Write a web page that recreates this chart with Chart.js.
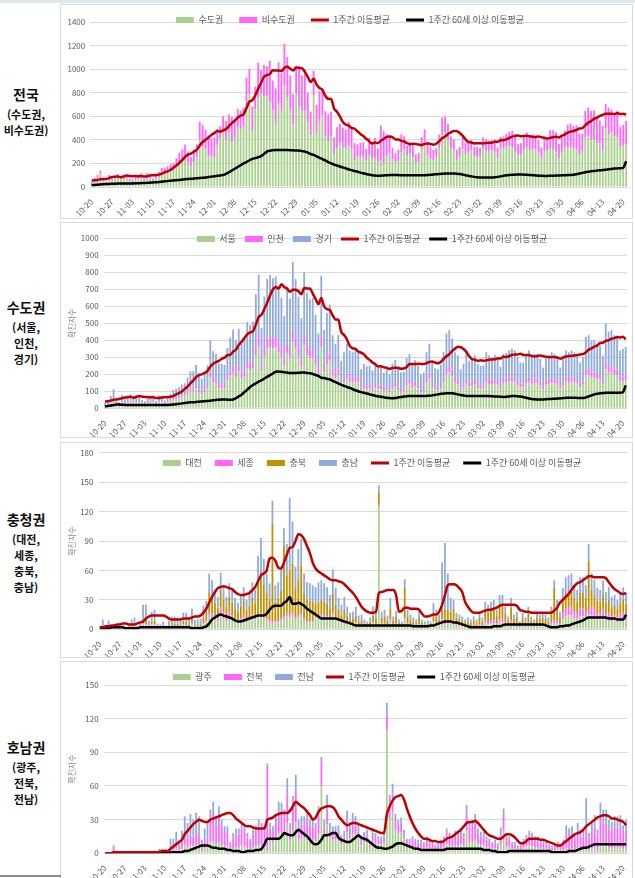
<!DOCTYPE html>
<html lang="ko">
<head>
<meta charset="utf-8">
<title>권역별 확진자 추이</title>
<script src="https://cdn.jsdelivr.net/npm/chart.js@4.4.1/dist/chart.umd.min.js"></script>
<style>
  html, body { margin: 0; padding: 0; background: #fff; }
  body { width: 635px; height: 878px; position: relative; overflow: hidden;
         font-family: 'Noto Sans CJK KR', 'Noto Sans', sans-serif; }
  .topband { position: absolute; left: 0; top: 0; width: 635px; height: 3px; background: #dde8ef; }
  .panel { position: absolute; left: 60px; width: 573px; border: 1px solid #d9d9d9; box-sizing: border-box; }
  .side { position: absolute; left: 0; width: 52px; text-align: center; font-weight: 700; color: #111; }
  .side .t { font-size: 14px; line-height: 20px; }
  .side .s { font-size: 11px; line-height: 16px; margin-top: 2px; }
  .foot { position: absolute; left: 0; top: 875px; width: 61px; height: 2px; background: #8c8c8c; }
  canvas { position: absolute; left: 61px; }
</style>
</head>
<body>
<div class="topband"></div>

<div class="panel" style="top:4px;height:215px"></div>
<div class="panel" style="top:222px;height:216px"></div>
<div class="panel" style="top:442px;height:216px"></div>
<div class="panel" style="top:661px;height:220px"></div>
<div class="foot"></div>

<div class="side" style="top:84px"><div class="t">전국</div><div class="s">(수도권,<br>비수도권)</div></div>
<div class="side" style="top:297px"><div class="t">수도권</div><div class="s">(서울,<br>인천,<br>경기)</div></div>
<div class="side" style="top:509px"><div class="t">충청권</div><div class="s">(대전,<br>세종,<br>충북,<br>충남)</div></div>
<div class="side" style="top:737px"><div class="t">호남권</div><div class="s">(광주,<br>전북,<br>전남)</div></div>

<canvas id="c1" width="571" height="212" style="top:5px"></canvas>
<canvas id="c2" width="571" height="214" style="top:223px"></canvas>
<canvas id="c3" width="571" height="214" style="top:443px"></canvas>
<canvas id="c4" width="571" height="216" style="top:662px"></canvas>

<script>
/* ---- 날짜 (2020-10-20 ~ 2021-04-21, 일별) ---- */
const DATES = [];
(function () {
  const d = new Date(2020, 9, 20);
  for (let i = 0; i < 184; i++) {
    DATES.push(String(d.getMonth() + 1).padStart(2, '0') + '-' + String(d.getDate()).padStart(2, '0'));
    d.setDate(d.getDate() + 1);
  }
})();

/* ---- 전국 ---- */
const NAT_SUDO = [33,48,72,112,45,35,78,53,70,82, 72,80,70,50,42,68,70,76,45,75, 74,46,73,85,107,115,124,140,147,180,
  216,218,255,206,176,208,252,400,335,320, 263,260,254,354,415,463,400,468,380,412, 509,489,510,671,786,472,657,760,784,765,
  775,716,650,543,700,645,860,762,658,530, 800,680,642,650,550,440,780,460,560,610, 430,380,430,280,330,380,340,330,350,330,
  230,260,248,250,222,272,240,245,210,230, 200,260,285,235,210,215,298,320,260,282, 252,200,210,330,380,272,236,230,255,330,
  440,460,410,330,310,230,262,320,280,290, 310,260,250,252,330,310,300,315,300,245, 320,325,340,350,340,300,270,270,320,340,
  315,320,320,290,240,300,315,330,320,300, 240,290,340,330,340,330,320,270,300,420, 430,400,400,370,370,310,500,450,460,430,
  420,340,350,360];
const NAT_NONSUDO = [14,28,32,26,16,11,23,21,21,29, 24,26,31,22,22,31,31,41,26,43, 39,26,40,43,55,51,52,53,55,65,
  77,102,106,96,79,110,111,153,190,166, 175,154,166,139,101,137,159,147,214,150, 153,157,163,257,216,210,191,294,209,271,
  250,355,253,294,359,321,356,341,288,256, 227,349,304,351,250,201,205,237,253,228, 213,238,207,139,177,156,164,158,204,170,
  141,100,126,130,100,143,131,173,116,291, 274,188,155,98,76,101,148,111,90,97, 102,75,78,93,110,112,103,83,76,114,
  150,138,128,98,93,89,77,104,97,95, 90,80,89,78,92,94,89,83,103,87, 107,104,112,120,138,147,95,101,126,123,
  127,126,116,109,90,111,97,152,162,165, 126,142,139,199,199,188,203,184,155,225, 244,245,252,218,195,208,205,223,195,198,
  226,171,177,200];
const NAT_AVG = [55,57,60,66,67,68,75, 86,88,89,83,89,97,93, 92,93,91,94,89,92,98, 99,101,105,111,125,133,144,
  163,182,205,228,256,274,283, 299,316,353,382,400,420,442, 457,476,470,481,491,517,542, 563,587,605,616,669,724,736,
  777,833,883,935,949,958,990, 988,989,985,1011,1022,1004,988, 1015,1010,1008,977,934,890,918, 871,840,825,774,748,747,666,
  639,600,552,530,521,501,494, 473,450,432,409,389,370,377, 372,393,407,425,428,423,404, 403,392,386,372,363,366,364,
  360,357,366,370,365,359,367, 389,413,428,450,463,476,474, 459,436,404,382,378,369,372, 371,370,374,375,375,384,383,
  396,397,404,416,427,434,438, 430,433,434,430,426,424,429, 423,418,411,417,422,426,421, 436,445,462,470,475,484,496,
  500,523,544,559,578,588,603, 612,621,621,622,619,627,619, 621,615];
const NAT_OLD = [17,18,20,22,24,25,26, 27,28,29,30,30,30,29, 30,31,32,33,34,35,37, 38,40,42,45,48,51,54,
  56,58,60,63,66,68,70, 72,74,76,78,80,84,88, 92,95,98,102,112,125,140, 155,170,185,200,212,225,238,
  245,252,262,280,300,308,312, 314,315,315,314,313,312,311, 310,308,306,300,292,280,272, 260,248,236,225,212,200,190,
  182,174,166,158,150,143,136, 130,122,116,110,105,100,97, 96,96,98,100,101,102,102, 101,100,100,100,100,99,99,
  99,99,100,101,103,106,108, 110,112,114,115,115,114,113, 110,106,100,95,90,86,83, 81,80,80,80,81,83,86,
  90,95,99,102,104,105,106, 106,105,104,102,100,98,96, 95,94,94,95,96,97,98, 99,100,101,102,104,108,114,
  120,126,130,133,136,139,142, 144,147,150,153,156,158,160, 162,218];

/* ---- 수도권 ---- */
const SEOUL = [15,22,33,50,20,16,36,24,32,38, 33,36,32,23,19,31,32,35,21,35, 34,21,34,39,49,53,57,64,68,83,
  99,100,117,95,81,96,116,184,154,147, 121,120,117,163,191,213,184,215,175,190, 234,225,235,309,362,217,302,350,361,352,
  357,329,299,250,322,297,396,351,303,244, 368,313,295,299,253,202,359,212,258,281, 198,175,198,129,152,175,156,152,161,152,
  106,120,114,115,102,125,110,113,97,106, 92,120,131,108,97,99,137,147,120,130, 116,92,97,152,175,125,109,106,117,152,
  202,212,189,152,143,106,121,147,129,133, 143,120,115,116,152,143,138,145,138,113, 147,150,156,161,156,138,124,124,147,156,
  145,147,147,133,110,138,145,152,147,138, 110,133,156,152,156,152,147,124,138,193, 198,184,184,170,170,143,230,207,212,198,
  193,156,161,166];
const INCHEON = [3,4,6,9,4,3,6,4,6,7, 6,7,6,4,4,6,6,6,4,6, 6,4,6,7,9,9,10,11,12,14,
  17,17,20,16,14,17,20,32,27,26, 21,21,20,28,33,37,32,37,30,33, 41,39,41,54,63,38,53,61,63,61,
  62,57,52,43,56,52,69,61,53,42, 64,54,51,52,44,35,62,37,45,49, 34,30,34,22,26,30,27,26,28,26,
  18,21,20,20,18,22,19,20,17,18, 16,21,23,19,17,17,24,26,21,23, 20,16,17,26,30,22,19,18,20,26,
  35,37,33,26,25,18,21,26,22,23, 25,21,20,20,26,25,24,25,24,20, 26,26,27,28,27,24,22,22,26,27,
  25,26,26,23,19,24,25,26,26,24, 19,23,27,26,27,26,26,22,24,34, 34,32,32,30,30,25,40,36,37,34,
  34,27,28,29];
const GYEONGGI = [15,22,33,53,21,16,36,25,32,37, 33,37,32,23,19,31,32,35,20,34, 34,21,33,39,49,53,57,65,67,83,
  100,101,118,95,81,95,116,184,154,147, 121,119,117,163,191,213,184,216,175,189, 234,225,234,308,361,217,302,349,360,352,
  356,330,299,250,322,296,395,350,302,244, 368,313,296,299,253,203,359,211,257,280, 198,175,198,129,152,175,157,152,161,152,
  106,119,114,115,102,125,111,112,96,106, 92,119,131,108,96,99,137,147,119,129, 116,92,96,152,175,125,108,106,118,152,
  203,211,188,152,142,106,120,147,129,134, 142,119,115,116,152,142,138,145,138,112, 147,149,157,161,157,138,124,124,147,157,
  145,147,147,134,111,138,145,152,147,138, 111,134,157,152,157,152,147,124,138,193, 198,184,184,170,170,142,230,207,211,198,
  193,157,161,165];
const CAP_AVG = [40,42,45,50,52,55,60, 63,66,68,62,67,72,68, 67,66,65,65,60,61,64, 65,66,68,72,82,89,99,
  113,128,147,163,183,195,200, 208,219,245,262,271,279,291, 298,312,314,333,344,373,391, 413,435,446,453,491,537,550,
  585,621,663,699,714,704,730, 713,705,685,698,697,688,671, 708,705,705,675,644,613,649, 600,583,579,547,523,521,450,
  431,406,367,353,349,334,327, 317,298,285,270,259,246,248, 241,238,231,237,239,238,233, 234,243,260,260,260,262,261,
  260,265,273,275,269,265,273, 290,306,318,337,351,362,359, 349,332,306,289,286,279,282, 280,282,286,287,288,294,293,
  303,302,306,314,317,317,321, 314,313,313,308,305,308,311, 306,304,300,302,302,299,292, 299,305,307,309,310,313,317,
  319,330,344,353,363,370,384, 386,397,400,409,413,420,416, 421,406];
const CAP_OLD = [12,13,16,20,22,22,21, 20,20,19,19,19,19,19, 19,19,19,19,19,19,19, 19,20,21,22,24,26,29,
  31,33,35,36,37,39,40, 42,43,45,47,49,51,52, 52,51,50,52,60,70,80, 95,110,125,137,147,157,165,
  175,185,195,205,215,217,215, 212,210,208,208,208,209,210, 210,208,206,202,196,190,180, 178,174,170,162,154,146,138,
  132,126,120,113,106,100,95, 92,87,82,78,74,70,68, 65,62,60,59,60,63,66, 69,71,72,72,72,72,72,
  72,73,74,76,79,82,85, 87,88,89,88,86,82,78, 75,73,72,72,72,72,72, 72,72,72,71,70,69,68,
  67,68,70,72,72,71,69, 66,62,58,55,53,52,52, 52,53,54,55,56,57,59, 60,61,62,62,62,61,60,
  60,64,70,76,82,86,88, 90,91,92,92,92,92,92, 94,135];

/* ---- 충청권 ---- */
const DAEJEON = [1,2,1,2,1,1,0,1,1,0, 1,2,2,1,1,5,4,2,4,4, 1,1,2,1,2,3,3,2,2,4, 3,2,5,2,2,2,5,7,14,12,
  10,8,14,10,8,12,10,8,7,9, 11,7,9,12,10,12,14,11,9,7, 6,7,7,9,10,13,12,14,10,12, 14,9,7,7,7,11,12,12,12,11,
  9,15,10,8,6,8,6,4,5,6, 3,4,2,2,3,6,4,125,5,5, 3,8,3,5,2,2,10,5,4,3, 2,4,2,2,2,2,7,5,4,8,
  5,6,6,6,3,3,3,2,2,2, 3,2,3,2,6,5,6,6,4,7, 7,5,3,6,3,4,2,3,2,5, 3,2,3,3,3,3,2,5,6,6,
  4,10,13,14,14,11,10,13,13,11, 15,14,12,10,10,12,9,11,8,9, 7,9,11,9];
const SEJONG = [0,0,0,0,0,0,0,0,0,0, 0,0,1,0,0,1,1,0,1,1, 0,0,0,0,0,1,0,1,0,1, 1,0,1,0,0,0,1,2,3,4,
  3,3,8,8,5,6,4,2,2,2, 3,2,2,3,3,3,3,2,2,2, 2,1,2,2,3,3,3,3,2,2, 3,2,1,1,1,2,2,3,2,2,
  2,3,2,2,1,2,1,1,1,1, 1,1,1,0,1,1,1,2,1,1, 1,2,1,1,1,0,2,1,1,1, 1,1,1,0,1,0,1,1,1,2,
  2,2,2,3,2,2,1,1,1,1, 1,1,2,1,3,2,3,3,2,3, 4,2,1,3,2,2,1,2,1,2, 1,1,2,2,2,2,1,2,3,3,
  2,6,8,8,9,7,6,8,8,7, 5,9,8,6,6,8,6,6,5,5, 5,6,6,6];
const CHUNGBUK = [0,2,1,2,0,1,1,1,1,1, 1,2,2,1,1,4,5,2,3,4, 1,1,2,1,2,3,3,3,2,4, 4,3,5,2,3,3,6,9,20,17,
  14,11,18,12,10,15,13,11,9,12, 15,11,13,17,14,32,42,33,26,21, 100,20,22,28,72,39,45,50,29,37, 48,26,22,21,20,13,14,15,14,13,
  10,18,13,10,8,10,7,5,5,7, 4,4,3,3,4,7,6,12,6,7, 5,11,5,7,4,3,30,7,5,4, 4,7,4,3,3,3,9,7,5,10,
  13,12,10,12,7,6,5,4,5,4, 5,4,7,5,11,10,11,12,8,14, 14,9,5,13,6,7,3,7,5,9, 5,4,7,6,7,6,5,9,33,12,
  7,13,16,17,17,14,12,16,16,14, 50,17,15,13,12,15,12,13,10,11, 9,12,13,11];
const CHUNGNAM = [2,6,2,5,2,3,2,4,2,1, 3,6,7,2,4,15,15,5,10,11, 4,3,4,2,5,6,7,6,5,8, 9,7,10,6,5,6,12,11,20,17,
  13,11,18,13,10,14,13,11,9,12, 14,10,13,16,13,28,34,26,20,17, 23,17,17,24,18,32,74,43,23,31, 27,20,18,18,17,17,20,20,19,17,
  14,25,17,12,10,13,9,7,7,9, 6,6,4,3,4,9,7,8,6,7, 5,11,4,6,3,3,9,7,5,4, 3,6,3,3,3,3,10,7,5,48,
  68,37,14,9,5,4,4,3,4,3, 4,3,5,4,8,8,8,9,6,11, 10,7,4,10,4,5,2,5,4,7, 4,3,5,4,5,4,4,7,8,9,
  5,13,16,16,17,13,12,16,16,13, 17,17,15,13,12,15,11,13,10,10, 9,11,13,11];
const CC_AVG = [2,2,3,3,4,4,5, 5,6,6,5,5,5,6, 7,8,11,13,14,14,14, 14,14,13,11,10,10,10, 10,11,11,11,12,13,13,
  14,17,21,27,33,38,42, 43,44,43,42,41,38,36, 35,35,36,37,40,43,49, 55,57,60,72,73,70,63, 62,68,76,83,84,90,97,
  96,92,85,78,68,62,59, 57,55,53,51,50,50,49, 48,46,43,40,37,33,28, 23,20,18,17,17,18,37, 38,39,40,40,40,35,18,
  19,22,22,21,21,21,20, 16,13,13,14,15,15,18, 25,35,45,46,46,45,42, 38,28,23,19,17,17,17, 18,19,20,20,21,22,24,
  25,25,25,25,25,24,20, 19,18,18,17,17,17,17, 17,17,17,17,19,22,27, 30,33,36,40,44,47,48, 50,52,54,54,53,53,53,
  53,52,48,44,41,39,37, 36,37];
const CC_OLD = [1,1,1,1,2,2,2, 2,2,1,1,1,1,1, 2,2,2,2,2,2,2, 2,2,2,2,2,2,2, 2,2,2,2,1,1,1,
  1,2,3,6,10,12,14, 15,14,13,12,11,9,8, 8,9,10,11,12,13,14, 14,14,16,20,23,24,24, 24,27,29,33,26,26,27,
  26,24,21,19,17,15,13, 11,11,11,11,11,11,10, 9,8,7,6,5,4,4, 4,4,4,4,4,4,4, 4,4,4,4,4,4,4,
  4,4,4,4,3,3,3, 3,3,3,4,4,5,6, 7,8,8,8,7,7,6, 5,4,3,2,2,2,2, 2,2,2,2,3,3,3,
  4,5,5,5,5,5,5, 5,5,5,5,5,5,5, 5,4,3,2,2,2,3, 3,4,4,5,6,7,8, 9,11,12,12,12,12,12,
  12,12,11,11,11,10,10, 10,15];

/* ---- 호남권 ---- */
const GWANGJU = [0,0,0,0,0,0,0,0,0,1, 0,0,0,0,0,1,0,0,0,1, 1,0,0,3,2,4,2,4,7,5, 7,6,7,7,2,4,6,10,11,8,
  10,7,6,6,3,4,5,5,7,6, 4,3,5,6,7,7,6,3,11,10, 14,18,18,16,27,11,20,28,12,13, 13,16,12,12,11,17,60,15,26,14,
  12,12,13,8,10,19,13,18,17,13, 7,10,11,5,11,9,8,8,10,110, 31,37,21,18,19,13,5,5,5,5, 4,4,4,5,4,4,3,3,4,5,
  8,6,6,7,6,8,6,20,10,10, 12,8,7,7,5,5,4,4,3,8, 20,6,5,4,4,2,3,5,6,7, 6,5,5,4,4,4,3,2,3,4,
  3,2,4,3,4,3,4,3,3,5, 3,4,5,3,7,6,6,5,4,5, 5,5,4,5];
const JEONBUK = [0,1,0,7,1,0,1,0,1,1, 1,0,1,1,0,1,1,0,1,1, 1,1,1,4,4,6,4,6,10,8, 10,9,11,10,4,7,8,21,25,18,
  23,17,13,13,5,10,12,12,15,13, 10,7,12,14,17,15,14,75,11,9, 13,19,18,15,27,11,21,28,12,13, 13,15,12,12,11,17,22,8,13,7,
  6,6,6,4,5,10,6,9,8,6, 3,5,5,3,5,5,4,4,5,14, 13,16,9,8,8,5,6,6,7,6, 5,5,4,7,5,4,4,4,5,7,
  10,8,7,9,8,10,8,15,13,14, 16,10,8,8,7,6,4,5,4,10, 15,8,7,4,4,3,4,6,7,9, 8,7,7,5,5,4,4,3,4,4,
  4,7,14,12,13,10,15,12,12,20, 10,15,19,12,25,21,21,16,16,18, 18,19,14,16];
const JEONNAM = [0,0,0,0,0,0,0,0,0,0, 0,0,1,0,1,0,0,0,0,2, 2,3,1,6,7,9,6,10,16,14, 18,15,18,16,6,11,14,8,10,7,
  9,6,5,5,2,4,5,5,6,5, 4,3,4,5,6,5,5,2,5,5, 7,9,9,8,13,5,10,14,6,7, 7,8,6,6,5,8,4,7,13,6,
  6,6,6,4,5,9,6,9,8,6, 3,4,5,2,5,4,3,3,5,10, 8,9,5,4,5,3,2,2,3,2, 3,3,2,3,3,2,1,2,3,3,
  4,4,3,4,4,4,4,8,5,6, 7,4,4,4,3,2,2,3,2,5, 5,4,3,2,2,2,1,2,3,4, 4,3,3,3,3,2,1,2,1,2,
  1,3,7,7,7,5,8,6,6,24, 5,8,10,6,13,12,12,9,8,10, 10,10,7,9];
const HN_AVG = [0,0,0,1,1,1,1, 1,1,1,1,1,1,1, 1,1,1,1,1,1,2, 2,2,4,6,8,10,12, 17,20,23,26,28,30,29,
  28,28,30,31,32,33,34, 35,36,36,34,31,29,27, 25,24,24,23,22,22,22, 22,30,31,32,34,35,36, 36,36,38,42,46,44,42,
  40,37,34,30,32,37,40, 41,42,42,41,38,33,30, 27,25,26,27,27,26,25, 24,23,22,21,20,19,18, 18,35,42,47,50,51,52,
  48,40,33,27,22,18,15, 13,13,12,11,11,10,10, 11,13,14,15,17,19,21, 24,27,28,28,29,27,24, 21,18,16,15,14,13,13,
  15,17,17,16,14,11,9, 9,11,13,13,13,13,12, 12,11,10,9,8,7,7, 9,11,13,15,17,18,19, 21,24,26,28,30,32,33,
  34,34,33,31,31,30,29, 28,25];
const HN_OLD = [0,0,0,0,0,0,0, 0,0,0,0,0,0,0, 0,0,0,0,0,0,0, 0,0,1,1,1,1,1, 2,2,3,4,5,6,7,
  7,7,6,5,5,4,4, 4,3,3,2,2,2,1, 1,2,2,2,3,3,4, 8,13,13,13,13,13,15, 18,17,16,16,19,21,19,
  17,15,12,9,8,9,12, 16,16,17,18,18,14,12, 11,10,10,12,14,16,14, 13,12,10,8,6,5,5, 4,4,5,6,8,9,9,
  8,7,6,5,4,4,3, 3,3,3,3,3,3,3, 3,4,4,4,4,4,4, 4,4,4,4,4,4,4, 3,3,3,2,2,1,1,
  1,1,2,2,2,2,2, 2,2,2,2,2,2,2, 2,2,2,1,1,1,1, 1,1,2,2,2,3,4, 5,5,6,7,8,8,8,
  8,8,8,8,8,8,8, 8,8];

/* ---- 공통 스타일 ---- */
const FONT = "'Noto Sans CJK KR', 'Noto Sans', sans-serif";
const GREEN = '#a9d18e', PINK = '#ff66ff', BLUE = '#8faadc', GOLD = '#bf9000', RED = '#c00000', BLACK = '#000000';
const AVG_LABEL = '1주간 이동평균';
const OLD_LABEL = '1주간 60세 이상 이동평균';

Chart.defaults.font.family = FONT;
Chart.defaults.color = '#595959';

function bar(label, data, color) {
  return { type: 'bar', label, data, backgroundColor: color, borderWidth: 0,
           barPercentage: 0.62, categoryPercentage: 1, order: 2, stack: 'cases' };
}
function line(label, data, color, stack) {
  return { type: 'line', label, data, borderColor: color, backgroundColor: color, borderWidth: 2.5,
           pointRadius: 0, pointHoverRadius: 0, cubicInterpolationMode: 'monotone', order: 1, stack };
}

function makeChart(id, datasets, o) {
  // Legend floats over the plot like the Excel original
  const legendPlace = {
    id: 'legendPlace',
    beforeLayout(chart) {
      const lg = chart.legend;
      if (lg && !lg._patched) {
        const fit = lg.fit;
        lg.fit = function () { fit.call(this); this.height = 0; };
        lg._patched = true;
      }
    },
    afterLayout(chart) {
      const lg = chart.legend;
      lg.left = o.legX - 290;
      lg.right = o.legX + 290;
      lg.width = 580;
      lg.top = o.legY - o.legPad - 4.5;
      lg.bottom = lg.top + 40;
      lg.height = 40;
    }
  };

  return new Chart(document.getElementById(id), {
    data: { labels: DATES, datasets },
    options: {
      responsive: false,
      animation: false,
      devicePixelRatio: 1,
      layout: { padding: { top: o.padT, right: o.padR, left: 0, bottom: 0 } },
      plugins: {
        tooltip: { enabled: false },
        legend: {
          position: 'top',
          labels: {
            usePointStyle: true,
            pointStyleWidth: 18,
            boxHeight: 6,
            padding: o.legPad,
            color: '#595959',
            font: { size: 9, family: FONT },
            sort: (a, b) => a.datasetIndex - b.datasetIndex,
            generateLabels(chart) {
              const items = Chart.defaults.plugins.legend.labels.generateLabels(chart);
              items.forEach(it => {
                const ds = chart.data.datasets[it.datasetIndex];
                if (ds.type === 'line') {
                  it.pointStyle = 'line'; it.lineWidth = 3; it.strokeStyle = ds.borderColor;
                } else {
                  it.pointStyle = 'rect'; it.lineWidth = 0;
                }
              });
              return items;
            }
          }
        }
      },
      scales: {
        x: {
          stacked: true,
          grid: { display: false },
          border: { display: false },
          ticks: {
            autoSkip: false, minRotation: 45, maxRotation: 45, padding: 2,
            color: '#595959', font: { size: 8 },
            callback: (v, i) => (i % 7 === 0 ? DATES[i] : null)
          },
          afterFit: s => { s.height = o.xH; }
        },
        y: {
          stacked: true,
          min: 0, max: o.max,
          border: { display: false },
          grid: { color: '#d9d9d9', drawTicks: false },
          ticks: { stepSize: o.step, padding: 5, color: '#595959', font: { size: 8 }, callback: v => String(v) },
          title: o.title
            ? { display: true, text: '확진자수', color: '#8c8c8c', font: { size: 8 }, padding: { top: 6, bottom: 0 } }
            : { display: false },
          afterFit: s => { s.width = o.yW; }
        }
      }
    },
    plugins: [legendPlace]
  });
}

makeChart('c1', [
  bar('수도권', NAT_SUDO, GREEN),
  bar('비수도권', NAT_NONSUDO, PINK),
  line(AVG_LABEL, NAT_AVG, RED, 'avg'),
  line(OLD_LABEL, NAT_OLD, BLACK, 'old')
], { max: 1400, step: 200, title: false, padT: 17, padR: 0.5, xH: 30, yW: 29.2, legX: 289, legY: 15, legPad: 16 });

makeChart('c2', [
  bar('서울', SEOUL, GREEN),
  bar('인천', INCHEON, PINK),
  bar('경기', GYEONGGI, BLUE),
  line(AVG_LABEL, CAP_AVG, RED, 'avg'),
  line(OLD_LABEL, CAP_OLD, BLACK, 'old')
], { max: 1000, step: 100, title: true, padT: 15.3, padR: 4.9, xH: 28.7, yW: 42.6, legX: 311, legY: 16, legPad: 9 });

makeChart('c3', [
  bar('대전', DAEJEON, GREEN),
  bar('세종', SEJONG, PINK),
  bar('충북', CHUNGBUK, GOLD),
  bar('충남', CHUNGNAM, BLUE),
  line(AVG_LABEL, CC_AVG, RED, 'avg'),
  line(OLD_LABEL, CC_OLD, BLACK, 'old')
], { max: 180, step: 30, title: true, padT: 7, padR: 1.3, xH: 27.7, yW: 37.5, legX: 311, legY: 20, legPad: 13 });

makeChart('c4', [
  bar('광주', GWANGJU, GREEN),
  bar('전북', JEONBUK, PINK),
  bar('전남', JEONNAM, BLUE),
  line(AVG_LABEL, HN_AVG, RED, 'avg'),
  line(OLD_LABEL, HN_OLD, BLACK, 'old')
], { max: 150, step: 30, title: true, padT: 23, padR: 1.3, xH: 24.7, yW: 42.6, legX: 293, legY: 15, legPad: 12 });
</script>
</body>
</html>
